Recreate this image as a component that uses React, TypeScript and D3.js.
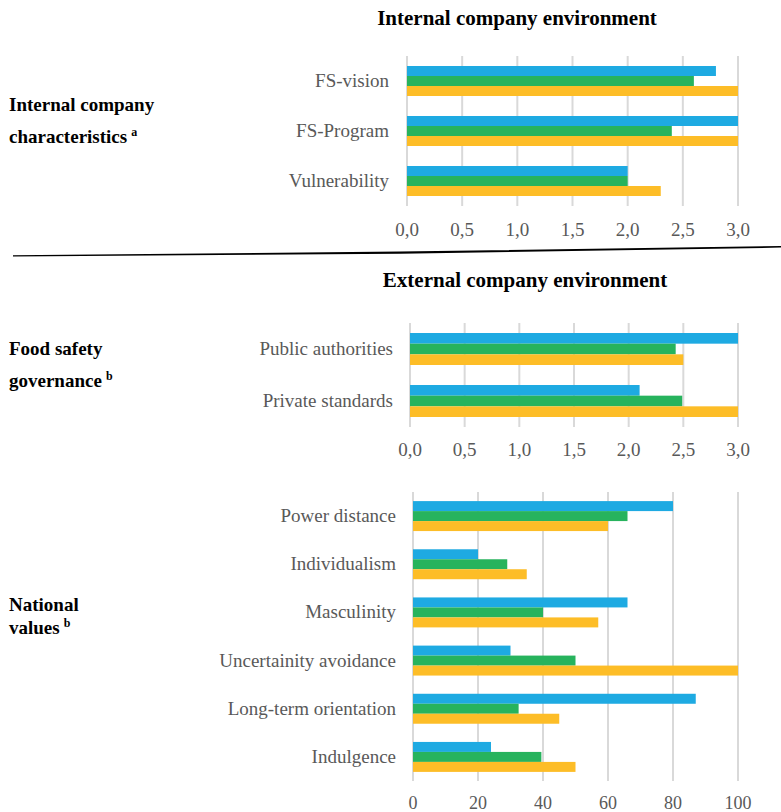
import React from "react";
import * as d3 from "d3";

// ---- Data ----
const seriesKeys = ["blue", "green", "yellow"];
const seriesColors = ["#1eaae2", "#27b35d", "#fdbd27"];

const internalCategories = ["FS-vision", "FS-Program", "Vulnerability"];
const internalBlue = [2.8, 3.0, 2.0];
const internalGreen = [2.6, 2.4, 2.0];
const internalYellow = [3.0, 3.0, 2.3];
const internalTicks = [0, 0.5, 1, 1.5, 2, 2.5, 3];

const governanceCategories = ["Public authorities", "Private standards"];
const governanceBlue = [3.0, 2.1];
const governanceGreen = [2.43, 2.49];
const governanceYellow = [2.5, 3.0];
const governanceTicks = [0, 0.5, 1, 1.5, 2, 2.5, 3];

const nationalCategories = [
  "Power distance",
  "Individualism",
  "Masculinity",
  "Uncertainity avoidance",
  "Long-term orientation",
  "Indulgence",
];
const nationalBlue = [80, 20, 66, 30, 87, 24];
const nationalGreen = [66, 29, 40, 50, 32.5, 39.5];
const nationalYellow = [60, 35, 57, 100, 45, 50];
const nationalTicks = [0, 20, 40, 60, 80, 100];

const SERIF = "'Liberation Serif', 'Times New Roman', Times, serif";
const GRAY = "#595959";

type PanelProps = {
  categories: string[];
  series: number[][];
  domainMax: number;
  ticks: number[];
  fmt: (v: number) => string;
  x0: number;
  x1: number;
  y0: number;
  y1: number;
  labelRight: number;
  tickBaseline: number;
  tickSize: number;
  padding: number;
};

function Panel(p: PanelProps) {
  const x = d3.scaleLinear().domain([0, p.domainMax]).range([p.x0, p.x1]);
  const y = d3
    .scaleBand<string>()
    .domain(p.categories)
    .range([p.y0, p.y1])
    .paddingInner(p.padding)
    .paddingOuter(p.padding / 2);
  const inner = d3
    .scaleBand<string>()
    .domain(seriesKeys)
    .range([0, y.bandwidth()]);
  return (
    <g>
      {p.ticks.map((t) => (
        <line
          key={"g" + t}
          x1={x(t)}
          x2={x(t)}
          y1={p.y0}
          y2={p.y1}
          stroke="#d9d9d9"
          strokeWidth={2}
        />
      ))}
      {p.categories.map((c, i) => (
        <g key={c}>
          {seriesKeys.map((k, si) => (
            <rect
              key={k}
              x={x(0)}
              y={(y(c) as number) + (inner(k) as number)}
              width={x(p.series[si][i]) - x(0)}
              height={inner.bandwidth()}
              fill={seriesColors[si]}
            />
          ))}
          <text
            x={p.labelRight}
            y={(y(c) as number) + y.bandwidth() / 2 + 6}
            textAnchor="end"
            fontFamily={SERIF}
            fontSize={19}
            fill={GRAY}
          >
            {c}
          </text>
        </g>
      ))}
      {p.ticks.map((t) => (
        <text
          key={"t" + t}
          x={x(t)}
          y={p.tickBaseline}
          textAnchor="middle"
          fontFamily={SERIF}
          fontSize={p.tickSize}
          fill={GRAY}
        >
          {p.fmt(t)}
        </text>
      ))}
    </g>
  );
}

const commaFmt = (v: number) => d3.format(".1f")(v).replace(".", ",");
const intFmt = (v: number) => d3.format("d")(v);

export default function App() {
  const W = 781;
  const H = 812;
  // separator polygon (tapered line)
  const sep = "M13,255.2 L400,251.6 L781,246 L781,247.6 L400,253.8 L13,256.4 Z";
  return (
    <svg
      width={W}
      height={H}
      style={{ position: "absolute", left: 0, top: 0, background: "#fff" }}
    >
      <rect x={0} y={0} width={W} height={H} fill="#fff" />
      <text
        x={517}
        y={25}
        textAnchor="middle"
        fontFamily={SERIF}
        fontWeight="bold"
        fontSize={21}
        fill="#000"
      >
        Internal company environment
      </text>
      <text
        x={525}
        y={287}
        textAnchor="middle"
        fontFamily={SERIF}
        fontWeight="bold"
        fontSize={21}
        fill="#000"
      >
        External company environment
      </text>

      <g fontFamily={SERIF} fontWeight="bold" fontSize={19} fill="#000">
        <text x={9} y={111}>Internal company</text>
        <text x={9} y={143}>
          characteristics
          <tspan fontSize={12} dx={4} dy={-7}>a</tspan>
        </text>
        <text x={9} y={355}>Food safety</text>
        <text x={9} y={387}>
          governance
          <tspan fontSize={12} dx={4} dy={-7}>b</tspan>
        </text>
        <text x={9} y={611}>National</text>
        <text x={9} y={634}>
          values
          <tspan fontSize={12} dx={4} dy={-7}>b</tspan>
        </text>
      </g>

      <path d={sep} fill="#000" />

      <Panel
        categories={internalCategories}
        series={[internalBlue, internalGreen, internalYellow]}
        domainMax={3}
        ticks={internalTicks}
        fmt={commaFmt}
        x0={407}
        x1={738}
        y0={56}
        y1={206}
        labelRight={389}
        tickBaseline={236}
        tickSize={19}
        padding={0.4}
      />
      <Panel
        categories={governanceCategories}
        series={[governanceBlue, governanceGreen, governanceYellow]}
        domainMax={3}
        ticks={governanceTicks}
        fmt={commaFmt}
        x0={410}
        x1={738}
        y0={323}
        y1={427}
        labelRight={393}
        tickBaseline={456}
        tickSize={19}
        padding={0.385}
      />
      <Panel
        categories={nationalCategories}
        series={[nationalBlue, nationalGreen, nationalYellow]}
        domainMax={100}
        ticks={nationalTicks}
        fmt={intFmt}
        x0={413}
        x1={738}
        y0={492}
        y1={781}
        labelRight={396}
        tickBaseline={809}
        tickSize={18}
        padding={0.378}
      />
    </svg>
  );
}
